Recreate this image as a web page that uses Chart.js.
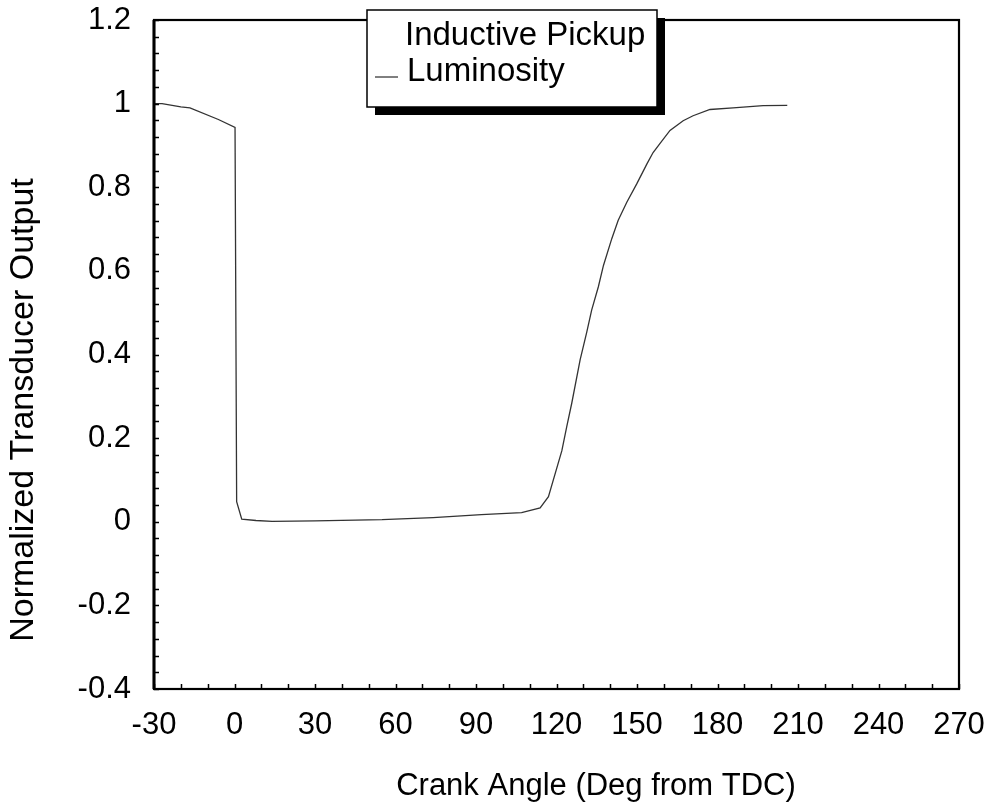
<!DOCTYPE html>
<html>
<head>
<meta charset="utf-8">
<script src="https://cdn.jsdelivr.net/npm/chart.js@4/dist/chart.umd.min.js"></script>
<style>
  html, body { margin: 0; padding: 0; background: #fff; }
  #wrap { width: 988px; height: 805px; position: relative; }
</style>
</head>
<body>
<div id="wrap"><canvas id="chart"></canvas></div>
<script>
// crank angle (deg from TDC) and normalized luminosity signal
const angle = [-30, -27, -20, -16.6, -6, 0.2, 0.8, 2.7, 8, 14, 30, 55, 74, 92, 107, 113.9,
  117, 122, 123.8, 125.7, 128.8, 131.3, 133.1, 135.6, 137.5, 140.6, 143, 146.2, 149.9,
  153.7, 156, 158.6, 162.3, 167.2, 170.9, 177.2, 185.8, 197, 206];
const luminosity = [1.0, 1.0, 0.992, 0.99, 0.962, 0.943, 0.048, 0.006, 0.003, 0.001, 0.002,
  0.005, 0.01, 0.017, 0.022, 0.033, 0.06, 0.17, 0.227, 0.284, 0.387, 0.454, 0.506, 0.562,
  0.613, 0.677, 0.721, 0.764, 0.808, 0.856, 0.883, 0.905, 0.936, 0.959, 0.971, 0.986, 0.99,
  0.995, 0.996];

const legendLabels = ['Inductive Pickup', 'Luminosity'];
const xTicks = [-30, 0, 30, 60, 90, 120, 150, 180, 210, 240, 270];
const yTicks = [-0.4, -0.2, 0, 0.2, 0.4, 0.6, 0.8, 1, 1.2];
const xTitle = 'Crank Angle (Deg from TDC)';
const yTitle = 'Normalized Transducer Output';

const FONT = '"Liberation Sans", Arial, Helvetica, sans-serif';

// box around the plot plus small inward tick marks
const framePlugin = {
  id: 'frame',
  afterDraw(chart) {
    const { ctx, chartArea: a, scales } = chart;
    ctx.save();
    ctx.strokeStyle = '#000';
    ctx.lineWidth = 1.5;
    ctx.beginPath();
    for (let v = -0.4; v <= 1.2001; v += 0.04) {
      const y = Math.round(scales.y.getPixelForValue(v)) + 0.5;
      ctx.moveTo(a.left, y);
      ctx.lineTo(a.left + 5, y);
    }
    for (let v = -30; v <= 270; v += 10) {
      const x = Math.round(scales.x.getPixelForValue(v)) + 0.5;
      ctx.moveTo(x, a.bottom);
      ctx.lineTo(x, a.bottom - 5);
    }
    ctx.stroke();
    ctx.lineWidth = 2.2;
    ctx.strokeRect(a.left, a.top, a.right - a.left, a.bottom - a.top);
    // left edge is drawn a touch heavier
    ctx.lineWidth = 3;
    ctx.beginPath();
    ctx.moveTo(a.left, a.top);
    ctx.lineTo(a.left, a.bottom);
    ctx.stroke();
    ctx.restore();
  }
};

// axis titles, placed off-centre the way the original plot has them
const axisTitlePlugin = {
  id: 'axisTitles',
  afterDraw(chart) {
    const { ctx } = chart;
    ctx.save();
    ctx.fillStyle = '#000';
    ctx.textAlign = 'center';
    ctx.textBaseline = 'middle';
    ctx.font = '31px ' + FONT;
    ctx.fillText(xTitle, 596, 786);
    ctx.translate(24, 410);
    ctx.rotate(-Math.PI / 2);
    ctx.font = '34px ' + FONT;
    ctx.fillText(yTitle, 0, 0);
    ctx.restore();
  }
};

// boxed legend with a drop shadow, sitting over the top edge
const legendBoxPlugin = {
  id: 'legendBox',
  afterDraw(chart) {
    const { ctx } = chart;
    const x = 367, y = 10, w = 290, h = 97;
    ctx.save();
    ctx.fillStyle = '#000';
    ctx.fillRect(x + 8, y + 8, w, h);
    ctx.fillStyle = '#fff';
    ctx.fillRect(x, y, w, h);
    ctx.strokeStyle = '#000';
    ctx.lineWidth = 1.5;
    ctx.strokeRect(x, y, w, h);
    ctx.fillStyle = '#000';
    ctx.font = '33px ' + FONT;
    ctx.textBaseline = 'middle';
    ctx.fillText(legendLabels[0], x + 38, y + 26);
    ctx.fillText(legendLabels[1], x + 40, y + 62);
    ctx.lineWidth = 1;
    ctx.beginPath();
    ctx.moveTo(x + 8, y + 67);
    ctx.lineTo(x + 31, y + 67);
    ctx.stroke();
    ctx.restore();
  }
};

const points = angle.map((a, i) => ({ x: a, y: luminosity[i] }));

new Chart(document.getElementById('chart'), {
  type: 'line',
  data: {
    datasets: [{
      label: legendLabels[1],
      data: points,
      borderColor: '#333',
      borderWidth: 1.3,
      pointRadius: 0,
      tension: 0,
    }],
  },
  options: {
    responsive: true,
    maintainAspectRatio: false,
    animation: false,
    layout: { padding: { top: 20, right: 29, left: 0, bottom: 0 } },
    plugins: {
      legend: { display: false },
      tooltip: { enabled: false },
    },
    scales: {
      x: {
        type: 'linear',
        min: -30,
        max: 270,
        afterFit(scale) {
          scale.height = 116;
          scale.paddingLeft = 0;
          scale.paddingRight = 0;
        },
        afterBuildTicks(scale) { scale.ticks = xTicks.map(v => ({ value: v })); },
        grid: { display: false, drawTicks: false },
        border: { display: false },
        ticks: {
          color: '#000',
          padding: 18,
          maxRotation: 0,
          font: { family: FONT, size: 31 },
        },
      },
      y: {
        type: 'linear',
        min: -0.4,
        max: 1.2,
        afterFit(scale) {
          scale.width = 154;
          scale.paddingTop = 0;
          scale.paddingBottom = 0;
        },
        afterBuildTicks(scale) { scale.ticks = yTicks.map(v => ({ value: v })); },
        grid: { display: false, drawTicks: false },
        border: { display: false },
        ticks: {
          color: '#000',
          padding: 23,
          font: { family: FONT, size: 31 },
          callback: v => String(Number(v.toFixed(1))),
        },
      },
    },
  },
  plugins: [framePlugin, axisTitlePlugin, legendBoxPlugin],
});
</script>
</body>
</html>
